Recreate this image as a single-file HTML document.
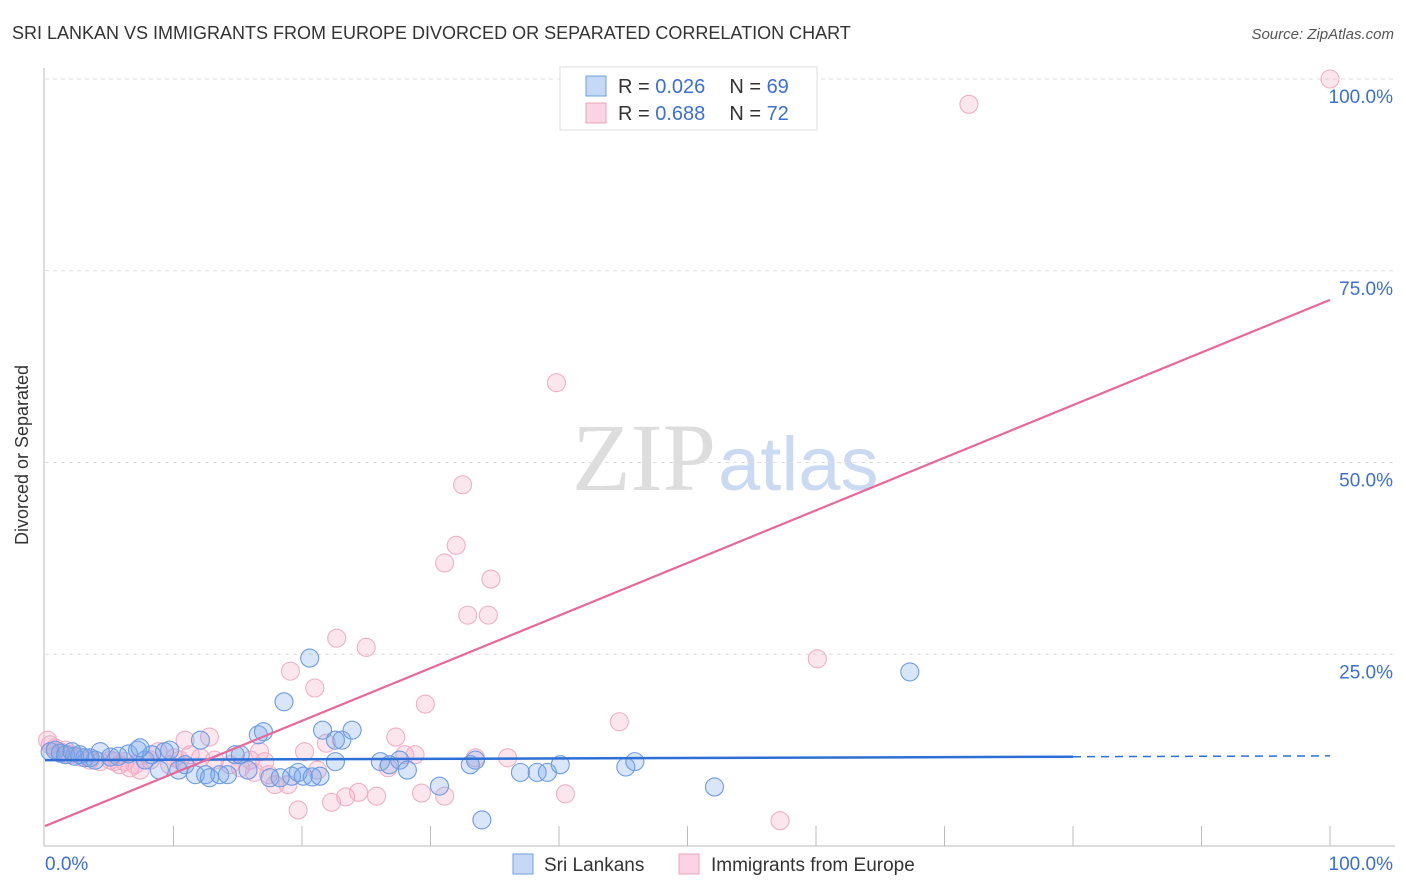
<!DOCTYPE html>
<html><head><meta charset="utf-8"><style>
body{margin:0;background:#fff;font-family:"Liberation Sans",sans-serif;}
svg{display:block}
</style></head><body>
<svg width="1406" height="892" xmlns="http://www.w3.org/2000/svg">
<text x="12" y="39" font-size="18" fill="#333">SRI LANKAN VS IMMIGRANTS FROM EUROPE DIVORCED OR SEPARATED CORRELATION CHART</text>
<text x="1394" y="39" font-size="15" fill="#555" font-style="italic" text-anchor="end">Source: ZipAtlas.com</text>
<text x="716" y="490" font-size="96" fill="#ddd" text-anchor="end" font-family="Liberation Serif,serif">ZIP</text>
<text x="718" y="490" font-size="76" fill="#c9daf2">atlas</text>
<g id="grid"></g>
<g id="axes"></g>
<g id="pts"></g>
<g id="trend"></g>
<text x="28" y="455" font-size="18" fill="#333" text-anchor="middle" transform="rotate(-90 28 455)">Divorced or Separated</text>
<g>
<rect x="560" y="67" width="257" height="63" fill="#fff" stroke="#ddd"/>
<rect x="586" y="76" width="20" height="20" fill="rgba(110,160,235,0.4)" stroke="#6f9fe0"/>
<rect x="586" y="103" width="20" height="20" fill="rgba(245,160,190,0.45)" stroke="#eaa3bb"/>
<text x="618" y="93" font-size="20" fill="#333">R = <tspan fill="#3a6fd8">0.026</tspan><tspan dx="24">N = </tspan><tspan fill="#3a6fd8">69</tspan></text>
<text x="618" y="120" font-size="20" fill="#333">R = <tspan fill="#3a6fd8">0.688</tspan><tspan dx="24">N = </tspan><tspan fill="#3a6fd8">72</tspan></text>
</g>
<g>
<rect x="513" y="854" width="20" height="20" fill="rgba(110,160,235,0.4)" stroke="#6f9fe0"/>
<text x="544" y="871" font-size="19" fill="#333">Sri Lankans</text>
<rect x="679" y="854" width="20" height="20" fill="rgba(245,160,190,0.45)" stroke="#eaa3bb"/>
<text x="711" y="871" font-size="19" fill="#333">Immigrants from Europe</text>
</g>
</svg>
<script>
const blueX=[0.4,0.8,1.2,1.6,2.3,3.1,3.9,4.3,5.1,5.7,6.5,7.2,7.8,8.3,8.9,9.3,9.7,10.4,10.9,11.7,12.1,12.5,12.8,13.6,14.2,14.8,15.2,15.8,16.6,17.0,17.5,18.3,18.6,19.2,19.7,20.1,20.6,20.8,21.4,21.6,22.6,23.1,23.9,22.6,26.1,26.8,27.6,28.2,30.7,33.1,33.5,34.0,37.0,38.3,39.1,40.1,45.2,45.9,52.1,67.3,7.4,3.5,2.1,2.7];
const blueY=[12.3,12.5,12.1,11.9,11.7,11.5,11.2,12.3,11.6,11.7,12.0,12.5,11.2,11.9,9.9,12.3,12.5,9.9,10.6,9.3,13.8,9.3,8.9,9.3,9.3,11.9,11.9,9.9,14.5,14.9,8.9,8.9,18.8,9.1,9.6,9.1,24.5,9.0,9.1,15.1,13.8,13.8,15.1,11.0,11.0,10.6,11.2,9.9,7.8,10.6,11.2,3.4,9.6,9.6,9.6,10.6,10.3,11.0,7.7,22.7,12.8,11.5,12.3,11.9];
const pinkX=[0.2,0.4,0.8,1.2,1.9,2.7,3.5,4.3,5.1,5.8,6.6,7.4,8.2,8.8,9.7,10.5,10.9,11.3,12.1,12.8,13.2,14.4,15.2,16.0,16.7,17.4,17.9,18.9,19.1,19.7,20.2,21.0,21.2,21.9,22.3,22.7,23.4,24.4,25.0,25.8,26.7,27.3,28.0,28.8,29.3,29.6,31.1,31.1,32.0,32.5,32.9,33.5,34.5,34.7,36.0,39.8,40.5,44.7,57.2,60.1,71.9,100,17.1,16.3,10.1,6.2,7.0,1.6,5.4];
const pinkY=[13.8,13.2,12.8,12.3,11.9,11.6,11.2,11.0,11.2,10.6,10.2,9.9,11.2,12.3,10.6,11.2,13.8,11.9,11.5,14.2,11.2,10.6,10.2,11.2,12.3,9.3,8.0,8.0,22.8,4.7,12.3,20.6,9.9,13.4,5.7,27.1,6.4,7.0,25.9,6.5,10.2,14.2,11.9,11.9,6.9,18.5,6.5,36.9,39.2,47.1,30.1,11.5,30.1,34.8,11.5,60.4,6.8,16.2,3.3,24.4,96.7,100,11.0,9.6,11.5,11.0,10.6,12.5,11.0];
const yTicks=[25,50,75,100];
const yTickLabels=["25.0%","50.0%","75.0%","100.0%"];
const xTicks=[10,20,30,40,50,60,70,80,90,100];
const blueTrend=[11.2,11.75];
const pinkTrend=[2.6,71.2];
const NS="http://www.w3.org/2000/svg";
const X=v=>45+v*12.85, Y=v=>846-v*7.67;
function mk(t,a,p){const e=document.createElementNS(NS,t);for(const k in a)e.setAttribute(k,a[k]);p.appendChild(e);return e;}
const grid=document.getElementById('grid'),axes=document.getElementById('axes'),pts=document.getElementById('pts'),tr=document.getElementById('trend');
yTicks.forEach((v,i)=>{
 const l=mk('line',{x1:45,x2:1395,y1:Y(v),y2:Y(v),stroke:'#ddd','stroke-dasharray':'4,4'},grid);
 
 
 const t=mk('text',{x:1393,y:Y(v)+24,'font-size':19,fill:'#3a6fd8','text-anchor':'end'},grid);
 t.textContent=yTickLabels[i];
 
 
});
const ya=mk('line',{x1:44,x2:44,y1:68,y2:846,stroke:'#bbb'},axes);


const xa=mk('line',{x1:44,x2:1395,y1:846,y2:846,stroke:'#bbb'},axes);


xTicks.forEach(v=>{
 const l=mk('line',{x1:X(v),x2:X(v),y1:826,y2:846,stroke:'#bbb'},axes);
 
 
});
const x0=mk('text',{x:45,y:870,'font-size':19,fill:'#3a6fd8'},axes);x0.textContent='0.0%';


const x1=mk('text',{x:1393,y:870,'font-size':19,fill:'#3a6fd8','text-anchor':'end'},axes);x1.textContent='100.0%';


pinkX.forEach((v,i)=>{
 const c=mk('circle',{cx:X(v),cy:Y(pinkY[i]),r:9,fill:'rgba(245,165,195,0.28)',stroke:'#f0afc4','stroke-width':1.1},pts);
 
 
});
blueX.forEach((v,i)=>{
 const c=mk('circle',{cx:X(v),cy:Y(blueY[i]),r:9,fill:'rgba(120,165,235,0.28)',stroke:'#6d9be2','stroke-width':1.1},pts);
 
 
});
const bAt=v=>blueTrend[0]+(blueTrend[1]-blueTrend[0])*v/100;
const b1=mk('line',{x1:X(0),y1:Y(bAt(0)),x2:X(80),y2:Y(bAt(80)),stroke:'#2d6fd6','stroke-width':2.5},tr);


const b2=mk('line',{x1:X(80),y1:Y(bAt(80)),x2:X(100),y2:Y(bAt(100)),stroke:'#2d6fd6','stroke-width':1.5,'stroke-dasharray':'8,6'},tr);


const p1=mk('line',{x1:X(0),y1:Y(pinkTrend[0]),x2:X(100),y2:Y(pinkTrend[1]),stroke:'#e8689a','stroke-width':2.2},tr);


</script>
</body></html>
